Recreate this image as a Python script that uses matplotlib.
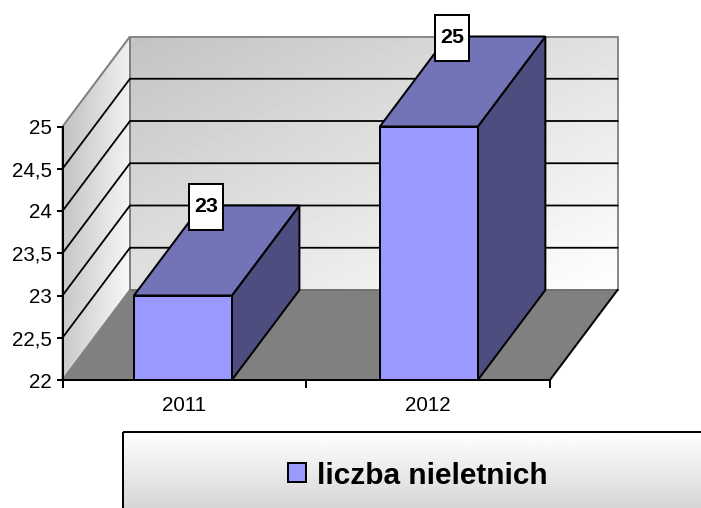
import numpy as np
import matplotlib
matplotlib.use("Agg")
import matplotlib.pyplot as plt
from matplotlib.patches import Polygon, Patch, Rectangle

plt.rcParams['font.family'] = ['Liberation Sans', 'DejaVu Sans']

categories = ['2011', '2012']
values = [23, 25]
series_name = 'liczba nieletnich'
y_ticks = [22, 22.5, 23, 23.5, 24, 24.5, 25]
y_tick_labels = ['22', '22,5', '23', '23,5', '24', '24,5', '25']

W, H = 701, 508
PX = 72 / 100  # points per pixel at dpi 100
fig = plt.figure(figsize=(W / 100, H / 100), dpi=100, facecolor='white')

# background layer in pixel coordinates (gradient panels only)
bg = fig.add_axes([0, 0, 1, 1], zorder=0)
bg.set_xlim(0, W); bg.set_ylim(H, 0); bg.axis('off')

# front plane of the 3-D box: the value/category axes
L, R, T, B = 62.5, 550, 126.5, 380
ax = fig.add_axes([L / W, 1 - B / H, (R - L) / W, (B - T) / H], zorder=1)
ax.patch.set_alpha(0)
ax.set_xlim(0, 2); ax.set_ylim(22, 25)
for s in ['top', 'right']:
    ax.spines[s].set_visible(False)
for s in ['left', 'bottom']:
    ax.spines[s].set_linewidth(2 * PX)
    ax.spines[s].set_zorder(6)

ax.set_yticks(y_ticks, y_tick_labels)
ax.set_xticks([0, 1, 2], ['', '', ''])
ax.set_xticks([0.5, 1.5], categories, minor=True)
ax.tick_params(axis='y', length=6 * PX, width=2 * PX, pad=4.5 * PX, labelsize=20.5 * PX, colors='black')
ax.tick_params(axis='x', which='major', length=6, width=2 * PX, direction='out')
ax.tick_params(axis='x', which='minor', length=0, pad=16 * PX, labelsize=20.5 * PX)

# depth of the box expressed in the axes' own units
DX = 67.5 / ((R - L) / 2)
DY = 90.0 / ((B - T) / 3)
BAR_W = 0.402
BAR_SHIFT = [-0.006, 0.003]
lw = 2 * PX


def poly(pts, fc, ec='black', z=2, lw_=lw):
    p = Polygon(pts, closed=True, fc=fc, ec=ec, lw=lw_, zorder=z, clip_on=False, joinstyle='miter')
    ax.add_patch(p)
    return p


def grad(pts, arr, extent):
    """Gradient image clipped to a polygon given in front-plane data coordinates."""
    clip = Polygon(pts, closed=True, transform=ax.transData, fc='none', ec='none')
    ax.add_patch(clip)
    im = bg.imshow(arr, cmap='gray', vmin=0, vmax=255, extent=extent, aspect='auto', zorder=1, interpolation='bilinear')
    im.set_clip_path(clip)
    return im


x0, x1 = 0, 2
y0, y1 = 22, 25
back = [(x0 + DX, y0 + DY), (x1 + DX, y0 + DY), (x1 + DX, y1 + DY), (x0 + DX, y1 + DY)]
side = [(x0, y0), (x0 + DX, y0 + DY), (x0 + DX, y1 + DY), (x0, y1)]
floor = [(x0, y0), (x1, y0), (x1 + DX, y0 + DY), (x0 + DX, y0 + DY)]

# back wall: diagonal gradient
n = 64
u, v = np.meshgrid(np.linspace(0, 1, n), np.linspace(0, 1, n))
grad(back, 195 + 60 * (0.5 * u + 0.5 * v), extent=(130, 617.5, 290, 36.5))
# side wall gradient
grad(side, 190 + 62 * (0.8 * u + 0.2 * v), extent=(62.5, 130, 380, 36.5))

# wall outlines
poly(back, 'none', ec='#8a8a8a', z=1.5, lw_=2 * PX)
poly(side, 'none', ec='#808080', z=1.5, lw_=2 * PX)

# gridlines on both walls
for t in y_ticks[1:-1]:
    ax.plot([x0, x0 + DX, x1 + DX], [t, t + DY, t + DY], color='black', lw=1.8 * PX,
            zorder=1.7, clip_on=False, solid_joinstyle='miter')

# floor
poly(floor, '#808080', ec='none', z=1.8)
ax.plot([x1, x1 + DX], [y0, y0 + DY], color='black', lw=lw, zorder=1.9, clip_on=False)
ax.plot([x0 + DX, x1 + DX], [y0 + DY, y0 + DY], color='#6e6e6e', lw=1.6 * PX, zorder=1.85, clip_on=False)

# bars
for i, val in enumerate(values):
    c = i + 0.5 + BAR_SHIFT[i]
    a, b = c - BAR_W / 2, c + BAR_W / 2
    poly([(b, y0), (b + DX, y0 + DY), (b + DX, val + DY), (b, val)], '#4d4d80', z=3 + i)
    poly([(a, val), (b, val), (b + DX, val + DY), (a + DX, val + DY)], '#7373b8', z=3 + i)
    ax.add_patch(Rectangle((a, y0), BAR_W, val - y0, fc='#9999ff', ec='black', lw=lw, zorder=3 + i, clip_on=False))

# data labels
for i, val in enumerate(values):
    c = i + 0.5 + BAR_SHIFT[i]
    lx = c + DX * 0.34
    ly = val + DY * 0.985
    px, py = ax.transData.transform((lx, ly))
    bw, bh = 34.5, 46.0
    ax.add_artist(Rectangle((px - bw / 2, py - bh / 2), bw, bh, transform=None, fc='white', ec='black',
                            lw=lw, zorder=8, clip_on=False))
    ax.text(px, py, str(val), transform=None, ha='center', va='center', fontsize=21.5 * PX, fontweight='bold',
            color='black', zorder=9, clip_on=False)

# legend panel: vertical gradient, running off the right and bottom edges
gv = np.linspace(255, 214, 64).reshape(-1, 1)
bg.imshow(gv, cmap='gray', vmin=0, vmax=255, extent=(122.5, W + 1, H + 1, 432), aspect='auto', zorder=1)
bg.add_patch(Rectangle((122.5, 432), W + 20, H, fc='none', ec='black', lw=2 * PX, zorder=2))
bg.set_xlim(0, W); bg.set_ylim(H, 0)

fs = 29.8 * PX
leg = fig.legend(handles=[Patch(fc='#9999ff', ec='black', lw=2 * PX, label=series_name)],
                 loc='center left', bbox_to_anchor=(288 / W, 1 - 475.5 / H), frameon=False,
                 fontsize=fs, borderpad=0, borderaxespad=0, handlelength=18 / 29.8, handleheight=18 / 29.8,
                 handletextpad=11 / 29.8, prop={'family': 'Liberation Sans', 'weight': 'bold', 'size': fs})
leg.set_zorder(5)

fig.savefig('out.png', dpi=100)
